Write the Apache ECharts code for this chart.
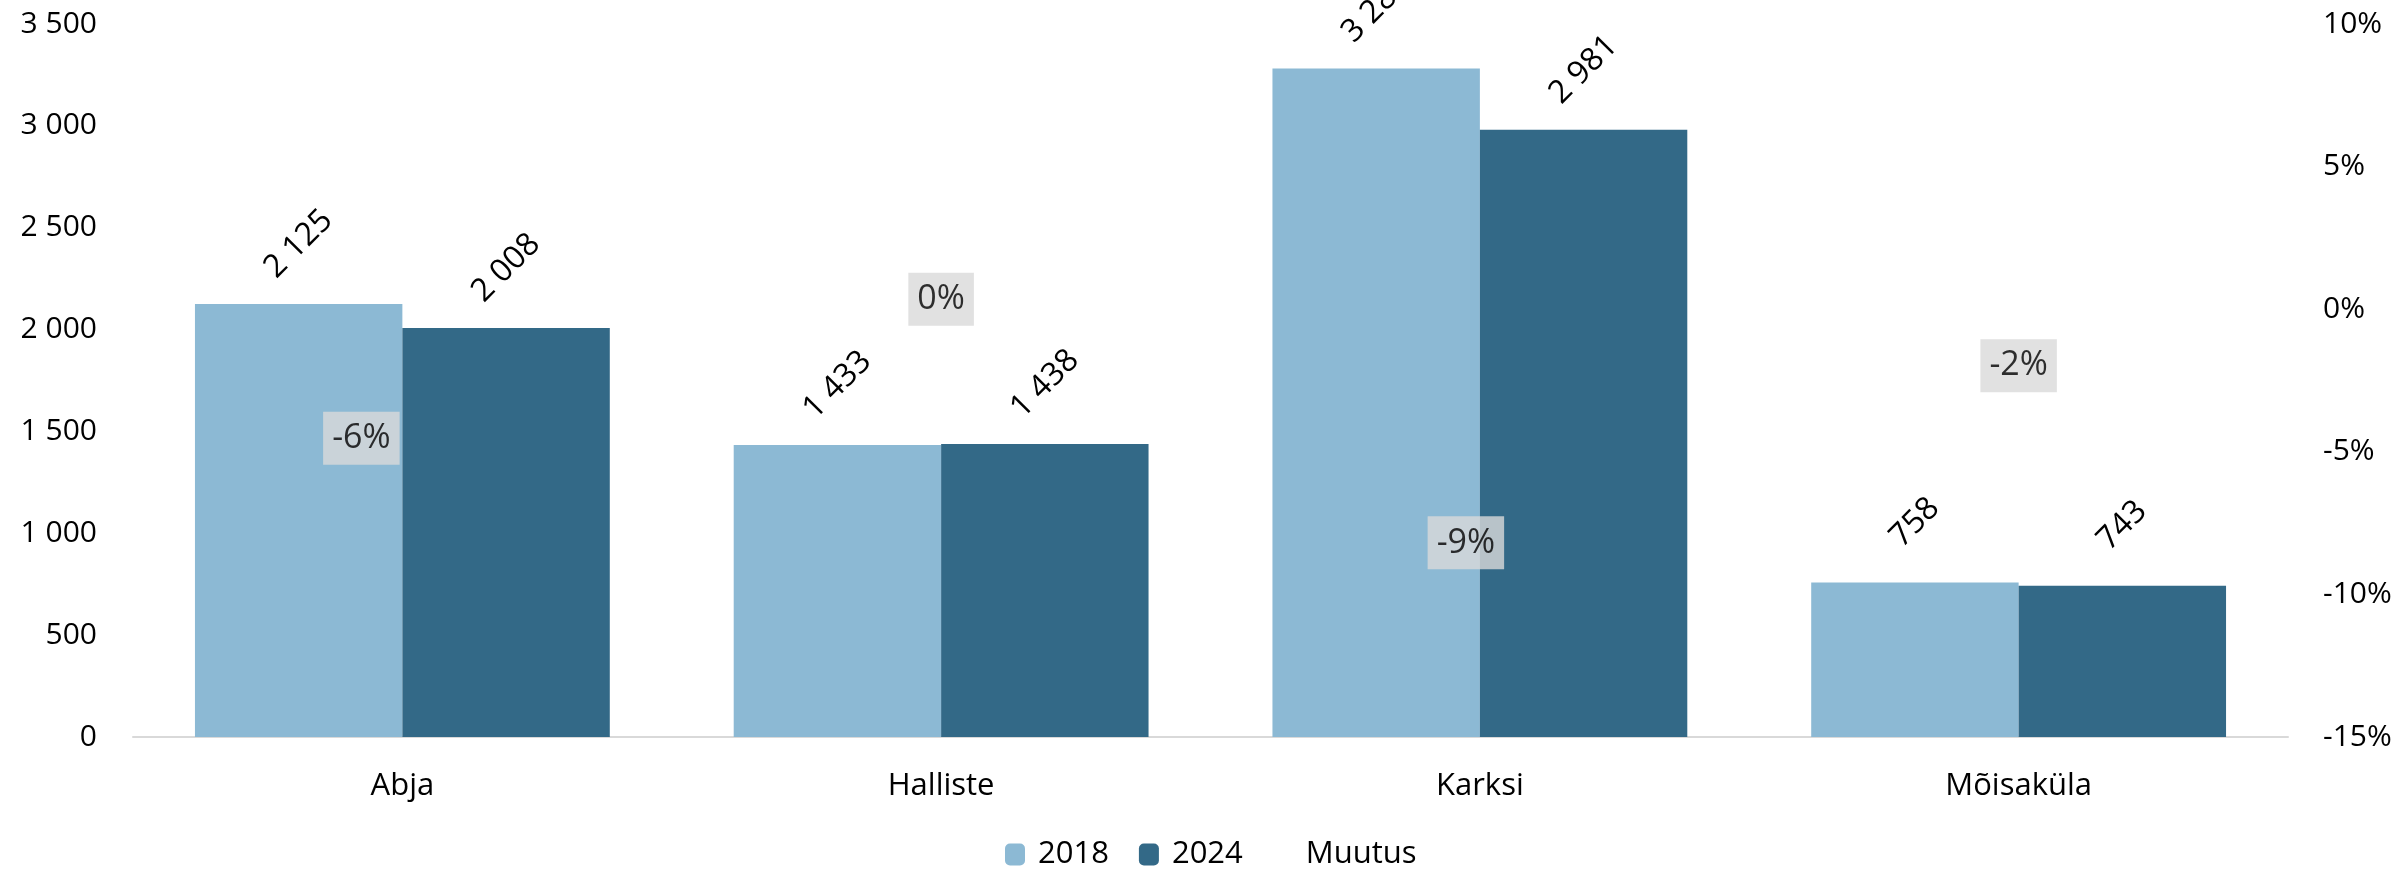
<!DOCTYPE html>
<html>
<head>
<meta charset="utf-8">
<script src="https://cdn.jsdelivr.net/npm/echarts@6/dist/echarts.min.js"></script>
<style>
  html, body { margin: 0; padding: 0; background: #fff; }
  #chart { width: 2404px; height: 872px; }
</style>
</head>
<body>
<div id="chart"></div>
<script>
const categories = ['Abja', 'Halliste', 'Karksi', 'Mõisaküla'];
const values2018 = [2125, 1433, 3281, 758];
const values2024 = [2008, 1438, 2981, 743];
const change = [-0.0551, 0.0035, -0.0914, -0.0198];
const leftTicks = { min: 0, max: 3500, interval: 500 };
const rightTicks = { min: -0.15, max: 0.10, interval: 0.05 };

// the change labels were nudged by hand in the original
const labelOffsets = [[-41, -28], [0, 0], [-14, -27], [0, 0]];

const font = 'Open Sans';
const thousands = v => String(v).replace(/\B(?=(\d{3})+(?!\d))/g, ' ');
const pct = v => (v * 100).toFixed(0).replace('-0', '0') + '%';

const barLabel = {
  show: true,
  position: 'top',
  rotate: 45,
  align: 'center',
  verticalAlign: 'middle',
  distance: 60,
  color: '#000',
  fontFamily: font,
  fontSize: 32,
  formatter: p => thousands(p.value)
};

let chart = echarts.init(document.getElementById('chart'));
chart.setOption({
  animation: false,
  textStyle: { fontFamily: font },
  grid: { left: 133, right: 116, top: 24, bottom: 135 },
  legend: {
    left: 1000,
    top: 834,
    itemWidth: 20,
    itemHeight: 22,
    itemGap: 30,
    textStyle: { fontFamily: font, fontSize: 31, color: '#000', padding: [0, 0, 0, 8] },
    data: ['2018', '2024', { name: 'Muutus', itemStyle: { color: 'rgba(0,0,0,0)' } }]
  },
  xAxis: {
    type: 'category',
    data: categories,
    axisLine: { lineStyle: { color: '#d9d9d9', width: 2 } },
    axisTick: { show: false },
    axisLabel: { color: '#000', fontSize: 31, margin: 34 }
  },
  yAxis: [{
    type: 'value',
    min: leftTicks.min, max: leftTicks.max, interval: leftTicks.interval,
    splitLine: { show: false },
    axisLine: { show: false },
    axisTick: { show: false },
    axisLabel: { color: '#000', fontSize: 30, margin: 36, formatter: thousands }
  }, {
    type: 'value',
    position: 'right',
    min: rightTicks.min, max: rightTicks.max, interval: rightTicks.interval,
    splitLine: { show: false },
    axisLine: { show: false },
    axisTick: { show: false },
    axisLabel: { color: '#000', fontSize: 30, margin: 35, formatter: pct }
  }],
  series: [{
    name: '2018',
    type: 'bar',
    data: values2018,
    barGap: '0%',
    barCategoryGap: '23%',
    itemStyle: { color: '#8cb9d4' },
    label: barLabel
  }, {
    name: '2024',
    type: 'bar',
    data: values2024,
    itemStyle: { color: '#336987' },
    label: barLabel
  }, {
    name: 'Muutus',
    type: 'scatter',
    yAxisIndex: 1,
    symbolSize: 1,
    itemStyle: { color: 'rgba(0,0,0,0)' },
    z: 5,
    data: change.map((v, i) => ({
      value: v,
      label: { offset: labelOffsets[i] }
    })),
    label: {
      show: true,
      position: 'inside',
      color: '#000',
      fontFamily: font,
      fontSize: 34,
      lineHeight: 39,
      backgroundColor: '#d9d9d9',
      padding: [7, 9],
      formatter: p => pct(p.value)
    }
  }]
});
window.addEventListener('resize', () => chart.resize());
</script>
</body>
</html>
